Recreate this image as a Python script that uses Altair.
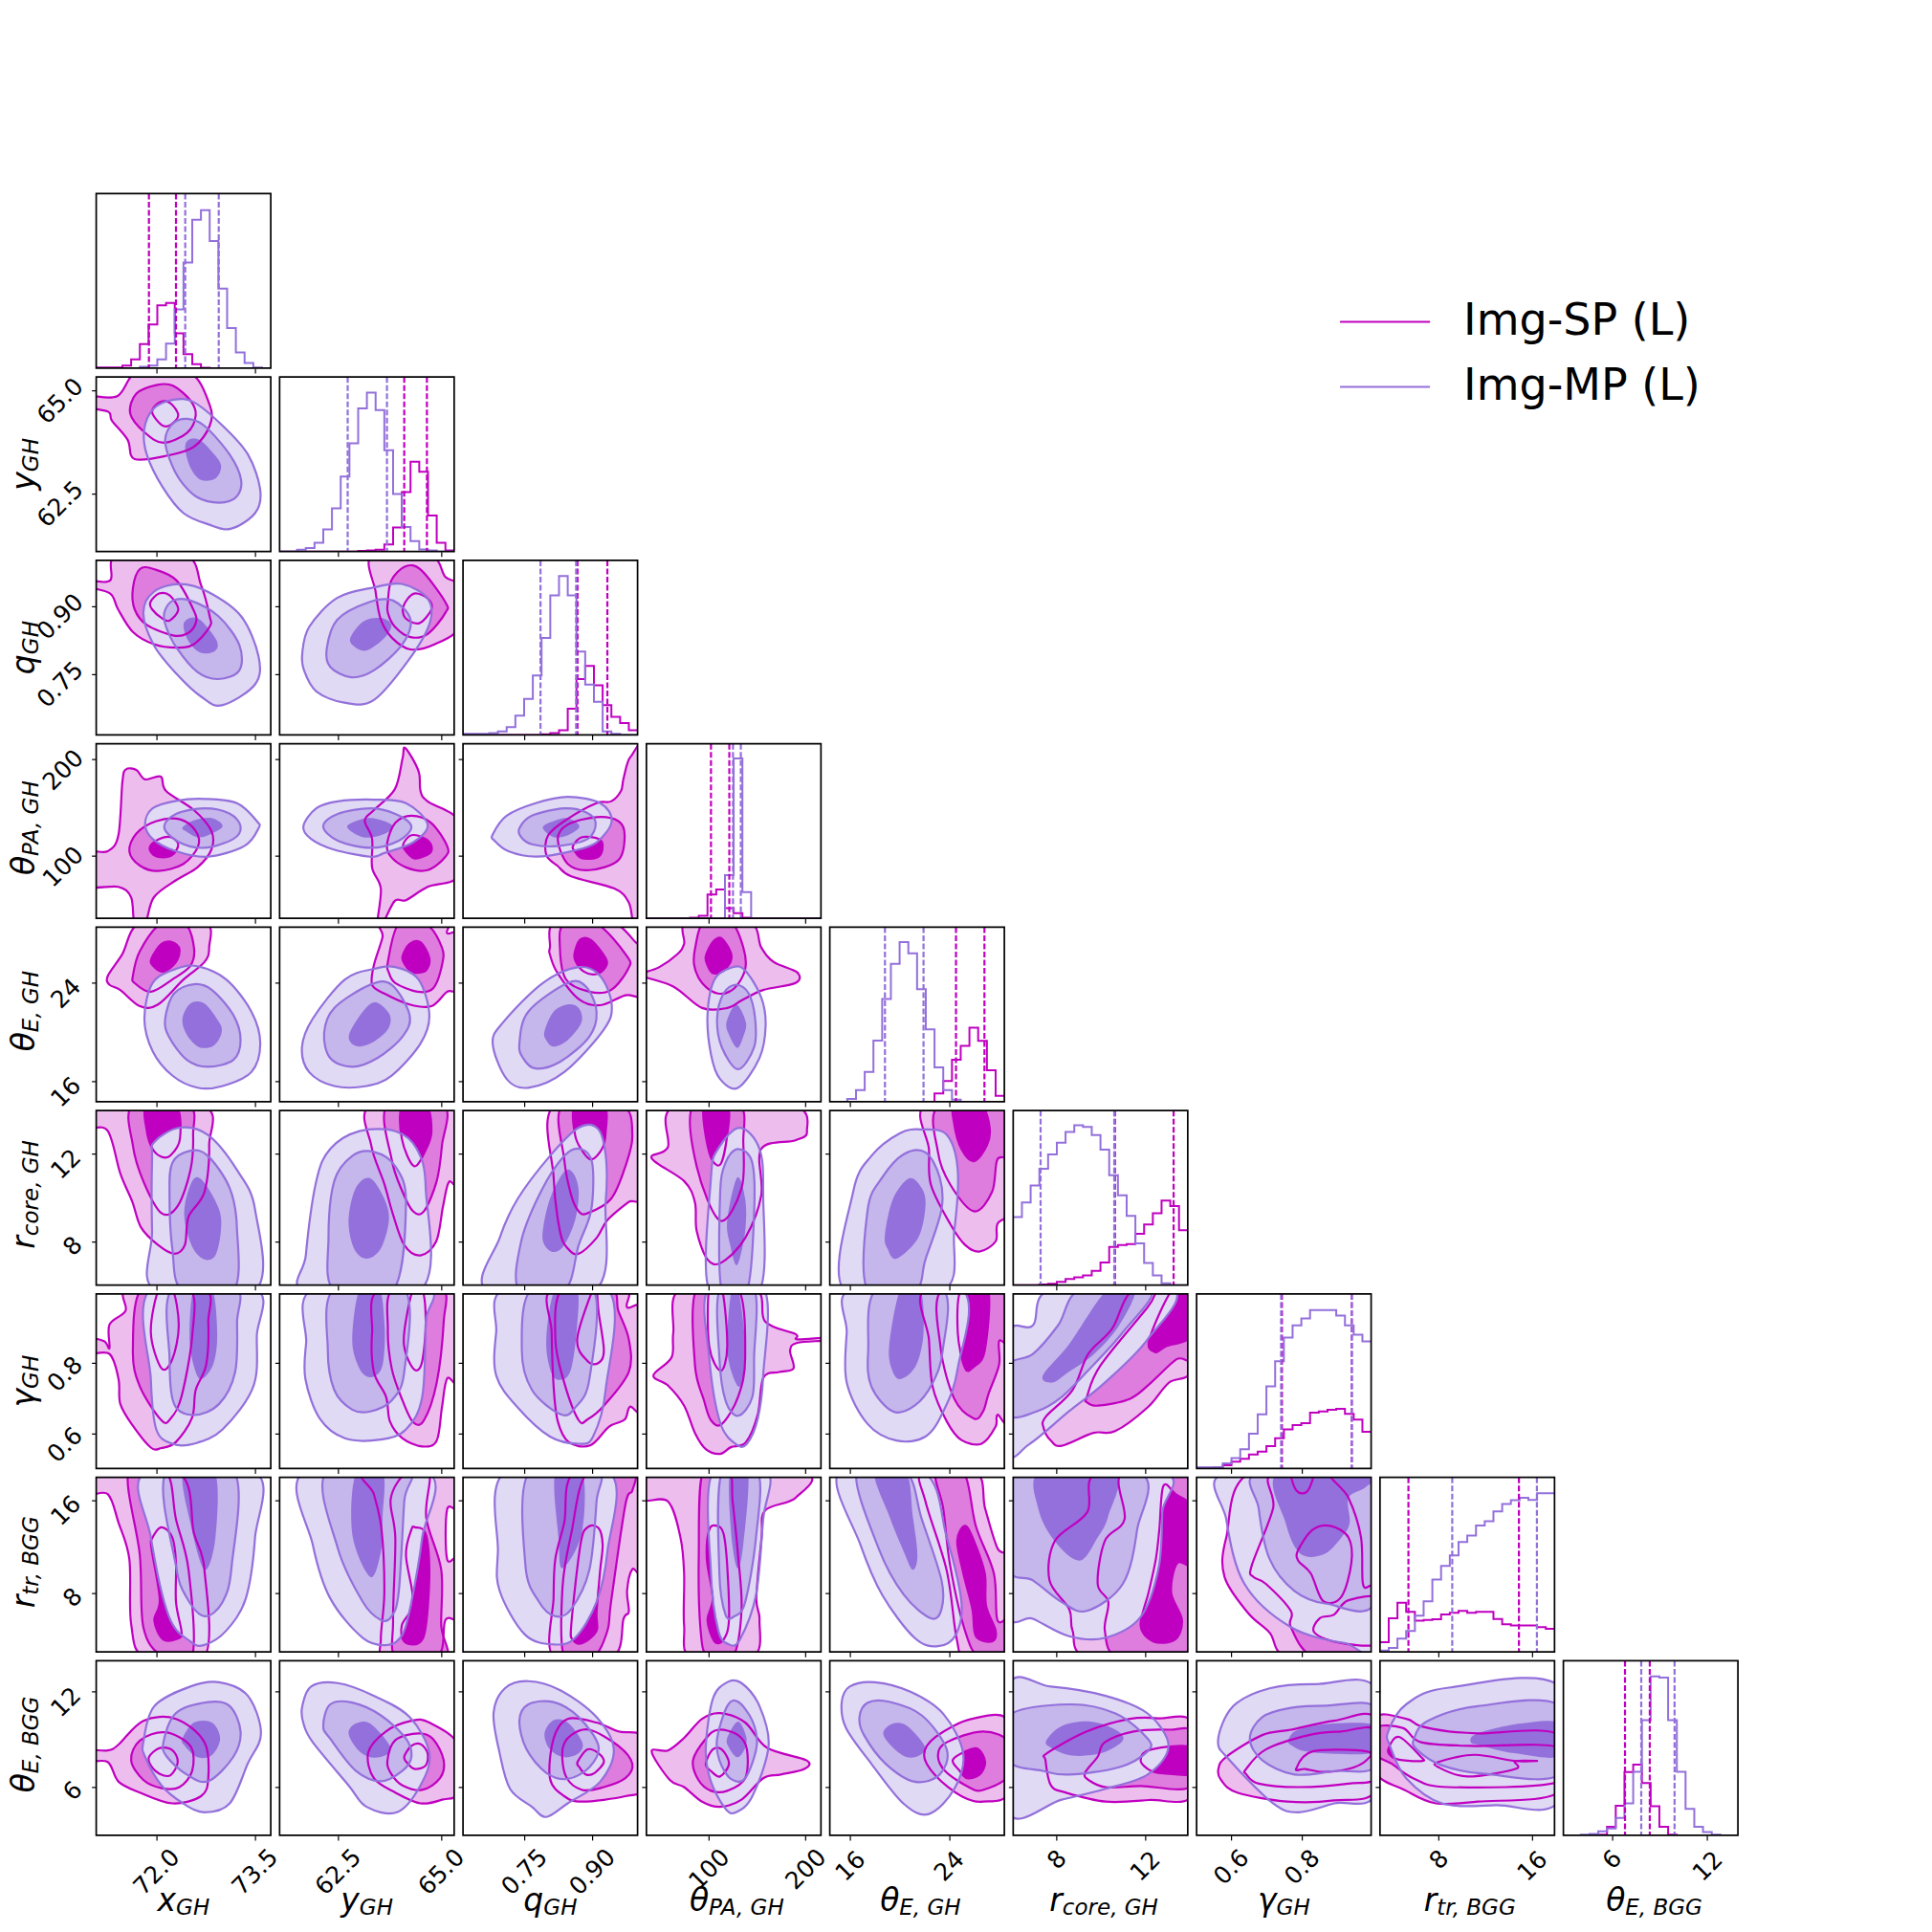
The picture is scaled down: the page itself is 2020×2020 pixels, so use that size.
import altair as alt
import pandas as pd

# parameter ranges, ticks and labels
names = ["x", "y", "q", "θ", "θ", "r", "γ", "r", "θ"]
subs = ["GH", "GH", "GH", "PA, GH", "E, GH", "core, GH", "GH", "tr, BGG", "E, BGG"]
sym_w = [19.5, 19.5, 21, 20, 20, 13.5, 19.5, 13.5, 20]
sub_w = [35, 35, 35, 72, 57, 93, 35, 77, 73]
lows = [71.086, 61.09, 0.615, 35.4, 14.36, 6.04, 0.5025, 2.98, 2.95]
highs = [73.746, 65.32, 1.0007, 216.0, 28.49, 13.94, 0.996, 17.93, 13.93]
ticks = [[72.0, 73.5], [62.5, 65.0], [0.75, 0.90], [100, 200], [16, 24], [8, 12], [0.6, 0.8], [8, 16], [6, 12]]
fmts = [".1f", ".1f", ".2f", "d", "d", "d", ".1f", "d", "d"]
label_pad = [33, 33, 33, 30, 27, 27, 28, 27, 27]

# histogram heights (percent of panel height), 20 bins per panel
h0_sp = [.4,.4,.4,1.4,5,13.8,25,36,37.4,20,8,2.3,.2,0,0,0,0,0,0,0]
h0_mp = [0,0,0,0,0,.8,1.4,5,14,33.7,60.5,85,90.5,72.8,45.5,23,9,3,.4,0]
h1_sp = [0,0,0,0,0,0,0,0,0,.4,.6,1,4,13.8,34,51.4,45.7,20.6,5,.6]
h1_mp = [0,0,1,2,5,12.7,24.7,43,62,82,91,81,58,33,14,6,1.2,.6,0,0]
h2_sp = [0,0,0,0,0,0,0,0,0,.4,1,2.7,15,32,39.5,28.4,17,10.3,6.8,2.7]
h2_mp = [.6,.6,.6,1,2,4.5,11,20.6,34,55.6,80,91,80,47.7,28.8,19,2,.6,0,0]
h3_sp = [0,0,0,0,0,.4,1.4,13.7,16.5,5.9,2.9,.4,0,0,0,0,0,0,0,0]
h3_mp = [0,0,0,0,0,0,0,0,0,24.7,91.6,15,0,0,0,0,0,0,0,0]
h4_sp = [0,0,0,0,0,0,0,0,0,0,0,0,4.7,11.8,24,32,42.4,34.9,18,3.3]
h4_mp = [0,0,1.6,6.7,17,35,58.8,79,91.4,85,64.5,41.4,19.6,6.7,1.2,0,0,0,0,0]
h5_sp = [0,0,0,.4,.8,1.8,3.5,4.5,5.5,8.2,13,21.8,22.9,23.5,29.4,34.7,41.2,48.4,45.3,31.4]
h5_mp = [39,47.3,57,66.7,74.9,81.6,87.8,91.6,90.6,86,77.6,63,51.4,39.6,23.9,12.7,5.5,1,0,0]
h6_sp = [.4,.4,.6,1.9,3.9,5.6,8,9.7,12.8,17.3,22.4,24.9,26,32,32.7,33.7,34.2,31.3,28,21]
h6_mp = [.6,.6,.8,2.9,6,11,20,31,47,61.5,75,82,86,90.7,90.7,90.7,87.6,82,76.7,72.8]
h7_sp = [5.6,19.3,28.2,23,17.9,18.3,18.7,21.4,22.4,23.5,22.4,23,23,18.9,15.8,15.2,15.2,15.2,14.2,13.2]
h7_mp = [.8,2.3,7.6,12,20.8,29,41.4,49.2,55.3,63,66.7,72.4,74.9,80.5,84.8,86.9,88.3,87,90.9,90.9]
h8_sp = [0,0,0,0,.4,4.9,16.9,36.2,40.5,30,16.7,4.9,.4,0,0,0,0,0,0,0]
h8_mp = [0,0,.4,.8,2.3,3.9,10,18.3,36.4,66,91,90.3,66,36.4,15.2,4.9,1.9,.4,0,0]

# dashed quantile markers (percent of axis range)
d_sp = [[30.2,45.7],[71.4,84.4],[65.6,82.7],[37,47.5],[72.3,88.6],[58.3,91.9],[48.9,88.9],[16.3,79.6],[35.3,49.5]]
d_mp = [[51,70.2],[39,61.5],[44.4,64.8],[49.6,54.1],[31.6,53.7],[15.7,57.9],[48.4,88.9],[41.4,89.9],[44.6,63.7]]

# contour outlines: (percent across, percent down) per level
p10_sp = [[(-5,11),(12,11),(24,-3),(53,-3),(65,16),(65,28),(56,40),(41,45),(22,47),(18,36),(9,25),(7,20),(-5,17)],
 [(19.5,21),(23,9.5),(35,4.5),(44,5),(54,13.5),(57,22),(52,32),(38.5,37.7),(28,32)],
 [(32,20),(36.5,14.5),(42.5,15),(47,22),(42.5,27.5),(37.5,27.5)]]
p10_mp = [[(27.5,30),(33,18),(44.5,13),(56,14.5),(72.5,28),(87,44.5),(94,65),(91,78),(77,87),(64.5,84.5),(50,78),(38,63),(29,44.5)],
 [(39.5,36),(43.5,27),(52,24),(62,28),(76.5,44.5),(83,59),(80,69),(70.5,72),(58,69),(48,59),(42,47)],
 [(51,41),(53,36),(59,36),(66,42.5),(71.5,50.5),(68.5,58),(60,59),(54,52)]]
p20_sp = [[(-5,11.5),(8,11.5),(12,-3),(51,-3),(60,14),(65,32),(65,38),(56,48),(46,50),(33,48),(21,41),(12.5,28),(8,19),(-5,15)],
 [(21,16),(25,5),(33,5),(46,11.5),(56,29),(57,36),(52,42),(44,43),(29,37),(22,28)],
 [(31,24),(36,19),(42,20),(47,28),(42,34.5),(37.5,33),(32,28)]]
p20_mp = [[(27,30),(33,18),(48,13.5),(64,18),(83,32),(93,55),(91,71),(72,83),(60,78),(46,65),(33,48.5)],
 [(39,30),(44,23),(54,23),(70,32),(82,48.5),(82,63),(70,68),(58,64),(46,50),(40,38)],
 [(50,37),(54,33),(60,34.5),(69,46),(68,52),(60,53),(53,46.5)]]
p21_sp = [[(53,-3),(86,-3),(95,9.5),(103,15),(103,38),(89,48),(75,51),(64.5,44.5),(58,34),(55,18)],
 [(62,24),(64,11.5),(72,3.5),(81,5.5),(95,24),(95,30),(85,42),(75,44),(66,38),(62,30)],
 [(71,26),(77,19),(85,22),(87,28),(80,36),(72,33)]]
p21_mp = [[(13,53),(17,38),(33,21.5),(54,15.5),(70,13.5),(85,22),(86,36),(74,57),(54,80),(37,81.5),(21,75),(14,63)],
 [(27,50.5),(33,34),(51,24),(65,23),(75,34),(70,48.5),(54,63),(41,67),(29,61)],
 [(40.5,44.5),(48,35),(58,33),(64,37),(60,44.5),(50,51.6),(43,49.5)]]
p30_sp = [[(-5,63),(6.5,61.6),(12.7,52.4),(15,21.8),(17,14.7),(23,15),(28,20.4),(37,18.8),(40,27),(56,38),(66,50),(66,60.6),(58,70.8),(46,78),(33,88),(28,103),(22,103),(20,88),(12.7,82),(-5,81)],
 [(19,61.6),(23,51.4),(34.5,44.3),(48,43.3),(57,50),(58.4,58.6),(50,68.8),(35.4,72.9),(25,69.8)],
 [(31,58.6),(36.4,54.5),(42.6,53.5),(47,57.6),(43.6,63.7),(36.4,65),(31.7,62.6)]]
p30_mp = [[(28,46),(32.3,37),(45.7,32.7),(62,31.6),(80.6,34),(92,44.3),(93,48.4),(84.8,58.6),(64,64.7),(45.7,61.6),(32.3,54.5)],
 [(39,48),(45.7,40.2),(62,37),(76.5,40),(82.7,47.3),(78.6,54.5),(62,59.6),(47.7,56.5)],
 [(49.4,48),(56,43.9),(66.3,42.6),(72.4,47.3),(64,52.4),(58,53.5),(51.9,50.4)]]
p31_sp = [[(72,2.4),(79.6,15.7),(80.7,27),(84.8,33),(103,45),(103,75),(84.8,82),(72.4,89.6),(66,90),(59,103),(56,103),(58,83),(53,71),(53,54.5),(48.8,44),(54,38),(66,26),(70.4,8.6)],
 [(61.7,56.5),(66.3,45.3),(75.5,41.2),(86.8,45.3),(96,58.6),(95,64.7),(84.8,72.4),(72.4,70.8),(63,63.7)],
 [(70.8,57.6),(75.5,52.4),(83.7,54.5),(87,58.6),(86,62.7),(77.6,65.7),(72.4,61.6)]]
p31_mp = [[(13.6,47.3),(21,37),(33.3,33),(54,32),(72.4,34),(84.8,46.3),(76.5,56.5),(60,62.6),(52,64.7),(31,60.6),(18,54.5)],
 [(25,47.3),(33.3,40.2),(52,37),(66.3,40.2),(75.5,47.3),(68.3,55.5),(52,59.6),(33.3,55.5)],
 [(38.7,47.3),(49.8,42.6),(60,44.3),(65,48),(58,52.4),(47.7,53.5)]]
p32_sp = [[(96,7.5),(92,19.8),(90.5,27),(84.8,33),(76.5,34),(60,43),(48.8,52.4),(47.7,63.7),(54,69.8),(62,76),(86.8,83),(95,91),(98,103),(105,103),(105,7)],
 [(54.3,54.5),(60,46.3),(76.5,42),(89,44.3),(92.6,52.4),(89,66.7),(72.4,72.4),(60,68.8)],
 [(63,58.6),(68.3,53.5),(77.6,54.5),(80,58.6),(77.6,64.7),(68.3,65.7),(64,61.6)]]
p32_mp = [[(17,52),(25,41.2),(41.6,34),(60,30.4),(78.6,34),(85.2,44.3),(76.5,56.5),(62,61.6),(41.6,64.7),(26,61.6),(18,55.5)],
 [(32.3,48.4),(39.5,41.2),(58,37),(70.4,39.2),(76,45.3),(71.4,54.5),(54,58.6),(39.5,57.6),(33.3,53.5)],
 [(45.7,48),(51.9,44.3),(60,42.6),(66.7,47.3),(60,52.4),(51.9,53.5)]]
p40_sp = [[(6.6,28),(14.8,15.7),(26,-3),(62,-3),(64.7,11.6),(62,20),(50,30),(35.4,44.3),(25,45.3),(13.8,36),(7.6,33)],
 [(21,28),(25,13.7),(37,-2),(50.8,-2),(56,11.6),(54,22),(43.6,30),(31.3,37),(22,32)],
 [(31.7,17.8),(37.4,9.6),(43.6,8.6),(47.7,12.7),(45.7,20),(38.5,25.5),(32.3,21.8)]]
p40_mp = [[(27.6,52.4),(32.3,32),(45.7,23.9),(58,22.4),(74.5,30),(88.9,48.4),(94,66.7),(88.9,83),(72.4,91),(58,92),(43.6,85),(32.3,71)],
 [(39.5,52.4),(44.6,38),(56,32.7),(66.3,36),(78.6,50.4),(82.7,64.7),(78.6,76),(64,80),(51.9,76),(41.6,62.7)],
 [(49.4,52.4),(54,43.7),(62,43.7),(70.4,54.5),(71.8,60.6),(67.3,67.8),(59,68.8),(51.9,61.6)]]
p41_sp = [[(59,-3),(94,-3),(96,3.5),(103,5),(103,34.5),(96,37),(87,45.3),(74.5,44.3),(60,38),(53,33),(54,21.8),(59,5.5)],
 [(62,20),(68.3,-2),(83.7,-2),(93,11.6),(93,21.8),(88,35),(79,37),(66.3,32),(62.6,26)],
 [(70.4,16.7),(74.5,9.6),(80.7,8.6),(85.8,17.8),(83.7,24.9),(76.5,25.9),(72,21.8)]]
p41_mp = [[(12.8,68.8),(19,52.4),(37.4,30),(54,23.9),(66.3,22.9),(79.6,30),(85.8,50.4),(80.7,66.7),(64.2,85),(49.8,91),(31.3,91),(16.9,83)],
 [(25.5,60.6),(31.3,46.3),(51.9,33),(64.2,33),(74.5,50.4),(70.4,62.7),(56,75),(41.6,80),(29,75)],
 [(40.5,59.6),(49.4,46.3),(56,43.3),(63.2,50.4),(62,58.6),(53.9,65.7),(45.7,68.4),(40.5,65.7)]]
p42_sp = [[(49.8,11.6),(53,-3),(84.8,-3),(100,9.6),(104,10),(104,38),(93,39),(78.6,44.7),(66.3,41.2),(54,26),(49.8,15.7)],
 [(55.5,11.6),(58,-2),(76.5,-2),(94,16.7),(94.6,23.9),(84.8,36),(72.4,37),(59,30)],
 [(64.2,13.7),(67.3,7),(73.5,7.5),(81.7,17.8),(81.7,22.9),(76.5,26.9),(69.3,25.5),(64.2,18.8)]]
p42_mp = [[(17,66.7),(23,54.5),(45.7,32),(66.3,22.9),(78.6,28),(85.2,44.3),(80.7,58.6),(58,83),(37.4,92),(25,87)],
 [(32.3,66.7),(37.4,48.4),(60,32),(70.4,34),(76.5,48.4),(72.4,62.7),(56,76.9),(41.6,81),(34.4,75)],
 [(46.7,59.6),(51.9,48.4),(60,44.3),(66.3,46.3),(67.9,54.5),(60,64.7),(51.9,68.4),(47.7,64.7)]]
p43_sp = [[(23.7,-3),(58.6,-3),(65.8,11.6),(73,20),(86.4,25.9),(85.4,32),(66.9,36),(54.5,42),(46.3,46.3),(31.9,46.3),(15.4,34),(-3,28),(-3,26.5),(7.2,23),(17.5,15.7),(21.6,9.6)],
 [(32.9,-3),(28,11.6),(27.4,21.8),(31.9,32),(41,38),(50.4,35),(56.6,24),(55.5,11.6),(48.4,-3)],
 [(34,16.7),(38,8.6),(43.2,6.5),(48.8,16.7),(44.2,24.9),(38,26.3),(35,21.8)]]
p43_mp = [[(35,50.4),(39,30),(49.4,22.9),(56.6,24.9),(65.8,40.2),(68.3,56.5),(64.8,74.9),(52.5,92),(42.2,87),(37,72.9)],
 [(40.5,52.4),(44.2,38),(51.4,33),(58.6,38),(62.3,52.4),(61.7,68.8),(52.5,81.4),(43.2,68.8)],
 [(45.9,54.5),(51.4,44.3),(57,54.5),(55.5,62.7),(52,69.2),(47.3,61.6)]]
p50_sp = [[(-5,-3),(60.5,-3),(64.7,20),(62,46.7),(52.9,60.8),(50.8,77),(44.7,82),(35.4,77),(25.7,67),(20.6,52),(13.8,36),(6.6,11.6),(-5,9.4)],
 [(21,-3),(21,20),(27,40.5),(37.4,58.8),(46.7,54.7),(54,34),(55.5,14),(52.9,-3)],
 [(29,-3),(29,11.8),(32.3,22),(37.4,26.5),(42.6,25.7),(48,16),(45.7,-3)]]
p50_mp = [[(32,28),(33.3,18),(47.7,9.8),(64,14),(80.6,34),(91,56.7),(91,103),(33.8,103),(32,69)],
 [(42,48.6),(43.6,30),(54,23),(64,26),(76.5,44.5),(80.6,67),(78.6,103),(49.4,103),(43.6,79)],
 [(51,52.7),(56,39),(62,41.4),(70.4,56.7),(71.4,69),(68.3,83),(62,85.3),(55.5,79),(51,65)]]
p51_sp = [[(52.5,-3),(103,-3),(103,40.8),(97,41),(93.6,55),(89.7,75),(80.7,83),(71.4,77),(64.8,59),(60,42),(52.5,20)],
 [(61.7,-3),(64.2,28),(70.4,46.5),(76.5,57.7),(82.7,57.7),(90,40.4),(93,20),(94,-3)],
 [(70.4,-3),(70,16),(77,31.8),(84,22),(87,11.8),(84,-3)]]
p51_mp = [[(15,103),(15,83),(21,40.4),(29,22),(45.7,11.8),(66.3,11.8),(78.6,22),(83.7,44.5),(80.7,103)],
 [(31.3,103),(28,73),(31.3,40.4),(41.6,26),(54,23.7),(66.3,32),(72.4,52.6),(65,103)],
 [(39.5,62.8),(43.6,44.5),(51.9,38.8),(60,50.6),(62.6,62.8),(58,79),(49.8,84.9),(42.6,79)]]
p52_sp = [[(52.3,-3),(103,-3),(103,47),(94.6,52.6),(82.7,62.8),(76.5,73),(66.3,82),(60,79),(55.5,69),(51.9,38)],
 [(57,-3),(58,28),(62,48.6),(66.3,57.7),(71.4,58.8),(84.8,50.6),(93,32),(97,14),(91,-3)],
 [(64.2,-3),(64.2,14),(68.3,23),(73.5,28),(79.6,22),(81.7,12.8),(80.7,-3)]]
p52_mp = [[(13.8,103),(21,73),(31.3,50.6),(49.8,26),(66.3,9.8),(77.6,10.8),(82,28),(81.7,52.6),(75.5,103)],
 [(32.3,103),(33.3,75),(44.6,46.5),(58,26),(67.3,22),(74,30),(73.5,56.7),(66.3,77),(58,103)],
 [(45.7,69),(49.8,50.6),(58,35),(63.2,36),(66.3,46.5),(64.2,62.8),(58,77),(51.9,81),(46.7,77)]]
p53_sp = [[(17,-3),(12.3,21),(3,27.3),(21.6,40.4),(27.8,52.6),(28.8,69),(35,85.3),(43.2,87),(56.6,73),(65.8,48.6),(65.8,22),(85.4,17),(92,11.8),(83.3,-3)],
 [(26.8,-3),(28.8,32),(42.2,63),(54.5,44.5),(55.5,18),(53.4,-3)],
 [(33,-3),(36,24),(42.2,31),(46.3,14),(46.3,-3)]]
p53_mp = [[(36,103),(37,38.4),(41,22),(53.4,9.8),(64.8,22),(66.9,48.6),(64.8,103)],
 [(43.2,103),(42.2,48.6),(45.3,30),(52.5,22),(60.7,30),(61.7,58.8),(57.6,103)],
 [(46.3,62.8),(52,38.4),(56.6,50.6),(56.6,69),(52,88.4),(48,77)]]
p54_sp = [[(54.8,-3),(103,-3),(103,53.7),(96,65),(95,75),(85.7,80.8),(77.5,77),(69,65),(57.9,42.4),(56.8,22)],
 [(62.6,-3),(103,-3),(103,24.5),(96,28),(93,46.5),(82.6,57.7),(69,42.4),(62,24)],
 [(71.7,-3),(71.3,7.8),(75.4,22),(82.6,29),(90,20),(91.6,9.8),(86.8,-3)]]
p54_mp = [[(8.3,103),(13.4,46.5),(23.8,26),(40.3,12.9),(52.7,10.8),(67,13.9),(73.3,34),(71.3,69),(65,103)],
 [(21.7,103),(21.7,56.7),(30,38.4),(42.4,25),(54.8,24),(63,38.4),(64,56.7),(54.8,85.3),(48.6,103)],
 [(31.6,71),(36.2,50.6),(45.5,38.8),(52.7,44.5),(54.8,54.7),(50.6,73),(38.2,84.9),(33,79)]]
p60_sp = [[(18.5,-3),(61.5,-3),(64.2,16),(63,40.5),(57,55),(54.9,71),(45.7,84.8),(37.4,88.3),(31.3,88),(21,75.5),(13.8,63),(12.8,48.8),(7.6,34.4),(-5,34),(-5,25.7),(4.5,27),(7.6,31),(7.6,17.5),(16.8,9.6)],
 [(26,-3),(21,32.3),(25,53),(37.4,72.4),(42.6,71.4),(48.8,59),(55,24),(53.5,-3)],
 [(36,-3),(31.3,22),(37.4,42.6),(43.6,37.4),(47.3,18),(43.6,-3)]]
p60_mp = [[(31.3,-3),(31.3,48.8),(34.4,77.6),(43.6,85.8),(56,85.8),(72.4,77.6),(90,53),(92,24),(91,-3)],
 [(43.6,-3),(42,36.4),(44.6,63),(56,69.3),(70.4,63),(79.6,44.7),(80.7,16),(79.6,-3)],
 [(56,-3),(53.5,26),(57,44.7),(61,48.4),(67.3,39.5),(69.3,22),(66.3,-3)]]
p61_sp = [[(57.6,-3),(103,-3),(103,48.4),(96,48.4),(93,65),(90,84),(81.7,87.4),(70.4,82.7),(63.2,73),(61,59),(54,44.7),(53,22)],
 [(65,-3),(62,20),(64.2,42.6),(70.4,61),(76.5,73.5),(82.7,72.4),(90,50.8),(94,16),(93,-3)],
 [(76.5,-3),(71.4,22),(72.4,34.4),(77.6,43.6),(81.7,38.5),(83.7,16),(81.7,-3)]]
p61_mp = [[(19.3,-3),(15.2,28),(14.8,48.8),(23,71.4),(37.4,82.7),(58,83.4),(72.4,77.6),(81.7,59),(83.7,16),(83.7,-3)],
 [(31.3,-3),(27.6,32),(31.3,55),(41.6,66.3),(51.9,67.3),(64.2,61),(71.4,44.6),(71.4,-3)],
 [(46,-3),(41.6,26),(45.7,42.6),(51.9,47.7),(58,43.6),(60,32.3),(60,16),(57,-3)]]
p62_sp = [[(51,-3),(92,-3),(94,7.6),(103,10.7),(103,64.6),(95.6,64.6),(92.6,72),(83.7,76),(72.8,86.8),(60.5,84.8),(54.3,73),(51.9,52.9),(50.8,22)],
 [(57,-3),(52.9,26),(58,50.8),(66.3,72.4),(71.4,71.8),(80.7,64),(95,44.6),(95,26),(89,9.7),(84.8,-3)],
 [(74.5,-3),(65.4,26),(71.4,38.5),(77.6,39.5),(80.7,32.3),(77.6,9.7),(76.5,-3)]]
p62_mp = [[(24,-3),(19,22),(19,46.7),(31.3,65),(49.8,81.7),(66.3,85.8),(74.5,81.7),(81.7,55),(82.7,-3)],
 [(39.5,-3),(33.7,32.3),(39.5,55),(56,69),(64.2,65.2),(72.4,48.8),(74.5,-3)],
 [(52.9,-3),(47.7,26),(50.8,45.7),(57,49),(62,42.6),(65.2,20),(65.2,-3)]]
p63_sp = [[(19.5,-3),(15.4,22),(14.4,36.4),(4,46.7),(12.3,52.4),(21.6,64),(27.8,79.6),(34,88.9),(42.2,91.6),(48.4,87.8),(57,85),(63.8,69),(67,48),(76,44.7),(84.3,42.6),(82.3,32.3),(86.4,28),(103,26.6),(103,25),(86.4,26),(85.5,23),(68,15.8),(61.7,-3)],
 [(28.8,-3),(27.8,40.5),(33,61),(37,72.4),(43.2,74.5),(52.5,59),(56.6,36.4),(52.5,-3)],
 [(36,-3),(36,30),(42.6,44),(46.3,30),(43.2,-3)]]
p63_mp = [[(35.6,-3),(36,36.4),(42.2,73.5),(51.4,86.2),(57.6,85.8),(63.8,71.4),(66.9,46.7),(67.3,-3)],
 [(42.2,-3),(41.8,36.4),(45.3,61),(52.5,69.8),(60.7,59),(61.7,36.4),(61.7,-3)],
 [(48.8,-3),(46.3,32.3),(52.5,53),(56.2,42.6),(56,22),(52.5,-3)]]
p64_sp = [[(54.8,-3),(103,-3),(103,69.3),(96,69.3),(95,76),(87,85.8),(75.4,83.7),(67,73),(58.9,53),(56.8,26)],
 [(64.7,-3),(63.4,30),(71.3,60),(82.6,71.4),(87.8,67.3),(91,57),(97,40.5),(97,27),(103,27),(103,-3)],
 [(75.4,-3),(73.3,22),(77.5,42.6),(82.6,41.6),(88.8,32.3),(90.5,-3)]]
p64_mp = [[(12.4,-3),(9.7,22),(9.7,50.8),(21.7,74.5),(38.2,84),(54.8,81.7),(65,67.3),(73.3,42.6),(75.4,-3)],
 [(26.9,-3),(22,32.3),(23.8,53),(36.2,67.3),(48.6,64),(58.9,51),(64.7,32.3),(64.7,-3)],
 [(40.7,-3),(34,30),(36.2,44.8),(41.3,48.6),(49.6,40.5),(53.7,22),(51.7,-3)]]
p65_sp = [[(70,-3),(103,-3),(103,42),(89,51),(77,65),(58.4,78.6),(46,79.6),(27.8,87),(21.6,84),(17.5,77),(18.5,70.5),(34,55),(43,34.4),(56.6,20)],
 [(84.4,-3),(103,-3),(103,35.4),(93.6,37.4),(79,50.8),(67,60),(48.6,64),(42.2,62),(42.2,59),(50,41),(77,7.6)],
 [(91.6,-3),(78,26),(81.3,33.3),(87.4,30),(103,23),(103,-3)]]
p65_mp = [[(-3,89),(9.3,86),(31.9,67.3),(52.5,50.8),(77,26),(91.4,-3),(22.6,-3),(11.3,18),(-3,24)],
 [(-3,69),(13.4,67.3),(27.8,59),(42.2,44.6),(62.8,22),(79.2,-3),(39,-3),(25.7,18),(11.3,34.4),(-3,41.6)],
 [(17,46.7),(31.9,29),(54.5,-3),(70,-3),(60.7,18),(46.3,34.4),(31.9,44.6),(22.6,50.8)]]
p70_sp = [[(-5,-3),(46.7,-3),(56,32),(62,53),(62,103),(27.8,103),(20,84),(19,47),(12.8,26),(6.6,9.6),(-5,9.6)],
 [(18.5,-3),(25,44.6),(27,85.8),(37.4,102),(55,102),(52.9,53),(45.7,24),(40,-3)],
 [(31.7,41),(36.4,70),(33.3,82),(38.5,93),(47.7,92),(48.8,87.8),(45.7,71.4),(45.7,48.8),(43.6,34.4),(37.4,28.6),(32,35)]]
p70_mp = [[(28,-3),(31.3,34.4),(41.6,79.6),(53.9,94),(62,96),(74.5,87.8),(85.8,69),(91,34.4),(91,-3)],
 [(40,-3),(45.7,50.8),(51.9,69),(62,79.6),(72.4,71.4),(77.6,50.8),(79,-3)],
 [(50,-3),(53.9,26),(62,52.9),(68.3,34.4),(67.9,-3)]]
p71_sp = [[(49.8,-3),(103,-3),(103,18),(96,18.3),(96,47),(103,47),(103,79.6),(95,81.7),(90,103),(60.5,103),(58,92.6),(60,66),(58.4,30),(54,9.7)],
 [(73,-3),(63.7,12),(66.3,35),(65,82),(67.3,103),(95,103),(92.6,85),(92.6,53),(84,23),(85.8,-3)],
 [(75.5,30),(72.4,44.7),(76.5,71.4),(70,84.8),(71.4,94),(79.6,95),(83.7,85.8),(85.8,54.9),(83.7,32.3),(77.6,28.6)]]
p71_mp = [[(13.8,-3),(19,38.5),(29,69.3),(47.7,92),(62,96),(70.4,90),(75.5,71.4),(81.7,34.4),(84.8,-3)],
 [(26.7,-3),(33.3,40.5),(47.7,71.4),(58,81.7),(64.2,79.6),(68.3,65.2),(71.4,13.8),(73,-3)],
 [(44,-3),(41.6,32.3),(51.9,57),(58,42.6),(59,22.6),(59,-3)]]
p72_sp = [[(64,-3),(103,-3),(103,52),(97,52.6),(94,65),(95,77),(92,81),(85.8,103),(51.9,103),(51.9,69),(52.9,46.7),(58,26)],
 [(71.4,-3),(62,32.3),(57,63),(58,103),(74.5,103),(82.7,88),(84.8,71.4),(93,15.8),(97,7.6),(97,-3)],
 [(71.4,28.6),(67.3,38.5),(62,84.8),(63,93),(68.3,95),(76.5,88),(76.5,77.6),(78.6,53),(80,38.5),(77.6,29)]]
p72_mp = [[(24,-3),(20,42.6),(21,65),(35.4,90),(51.9,95.7),(64.2,92),(76.5,71.4),(82.7,42.6),(83.7,-3)],
 [(37.9,-3),(35.8,50.8),(43.6,71.4),(52.9,79.6),(62,75.5),(72.4,53),(76.5,13.8),(76.5,-3)],
 [(53,-3),(54.7,34.4),(57,52),(68,32),(68.3,-3)]]
p73_sp = [[(-3,-3),(88.5,-3),(85.5,11.7),(68,19),(66,34.4),(63,69),(64.8,81.7),(61,103),(25.7,103),(21.6,84.8),(21.6,55),(19.5,34.4),(12.3,13.8),(-3,12.7)],
 [(32.3,-3),(30,44.6),(30.9,85.8),(35,103),(49.4,103),(54.5,76),(52.5,44.6),(49.4,13.8),(47.3,-3)],
 [(36,30),(34.6,46.7),(38,69.3),(35,81.7),(39,94),(44.2,93),(47.3,81.7),(46.3,50.8),(44.2,32.3),(40.5,27.8)]]
p73_mp = [[(38,-3),(37,55),(41.2,87.8),(47.3,95.7),(53.5,93),(62.8,67.3),(66.9,24),(69.3,-3)],
 [(43.2,-3),(41.8,55),(45.3,78.6),(50.4,79.6),(56.6,71.4),(62.8,34.4),(63.8,-3)],
 [(48,-3),(48.4,30),(52,51.9),(55.5,38.5),(58.2,-3)]]
p74_sp = [[(53.3,-3),(83.7,-3),(89,17.9),(96,40.5),(103,49.8),(103,103),(78,103),(72.7,92.6),(67,53.5),(54.8,13.8)],
 [(60.8,-3),(76.7,-3),(83.7,28),(94,55),(96,81.7),(103,81.7),(103,103),(85.7,103),(77.5,88),(69,50.8),(65,18)],
 [(73,36.4),(77.5,27.8),(82.6,36.4),(88.8,55),(89.5,73.5),(95,87.8),(93,94),(83.7,91),(81.7,75.5),(76.5,55)]]
p74_mp = [[(5.2,-3),(17.5,38.5),(30,67.3),(48.6,92),(62,96.7),(72.3,90),(75.4,71.4),(67,34.4),(53.7,-3)],
 [(15.5,-3),(27.9,40.5),(42.4,67.3),(57.9,80.7),(64,75.5),(64,58.9),(52.7,24),(43.4,-3)],
 [(25.8,-3),(34,22),(42.4,42.6),(47.5,52.9),(50.2,44.6),(47.5,22),(43.4,-3)]]
p75_sp = [[(48.6,-3),(42.4,20),(23.9,36.4),(20.8,59),(32.1,75.5),(34,87.8),(43.2,103),(103,103),(103,-3)],
 [(62.7,-3),(63.8,24),(52.5,36.4),(48.4,61),(54.5,71.4),(52.5,87.8),(59.6,103),(92.6,103),(103,95.7),(103,-3)],
 [(86,5),(93,9.6),(103,19),(103,49),(94,49),(90.5,65.8),(96.7,81.7),(92.6,93),(80.2,94),(73,84.8),(77.6,65.8),(81.7,47),(83.7,30)]]
p75_mp = [[(-3,-3),(85.4,-3),(85.4,20),(83.3,52),(73,80),(52.5,92),(32,91),(11.3,81),(-3,76)],
 [(-3,-3),(72,-3),(71,30),(62.8,61),(42.2,76.5),(27.8,71.4),(11.3,59),(-3,50.8)],
 [(15.4,-3),(14.4,18),(23.7,36.4),(38,47.7),(48.4,34.4),(54.5,22),(58.2,-3)]]
p76_sp = [[(31.5,-3),(103,-3),(103,103),(53,103),(41.8,88.9),(29.4,77.6),(16,57),(17,34.4)],
 [(44.9,-3),(103,-3),(103,103),(67.5,103),(54,85.8),(54,76.5),(39.7,61),(32.5,57),(31.5,50.8),(43.8,17.9)],
 [(58.2,41.6),(66.5,30),(76.7,27.8),(87,34.4),(88.7,48.8),(83,68.3),(72.6,71),(65.4,55),(58.2,47.7)],
 [(54.7,-3),(57.2,7.6),(63.4,8),(66.5,-3)],
 [(76.7,-3),(87,11.7),(94.2,34.4),(95.3,61),(100,62),(106,62),(106,-3)],
 [(106,70),(87,70.4),(78.8,78.6),(70.6,80.7),(67.5,88.9),(83,95),(106,94)]]
p76_mp = [[(16.7,-3),(17,24),(27.4,61),(54,85.8),(85,95),(103,94),(103,-3)],
 [(35.6,-3),(35.6,17.9),(41.8,46.7),(56,65),(74.5,72.4),(103,70.4),(103,-3)],
 [(47,-3),(51,26),(59.3,43.6),(72.6,44.2),(83,34.4),(87.7,26),(87,11.7),(97,5.5),(103,-3)]]
p80_sp = [[(-5,51.4),(6.6,51.4),(12.8,48),(27,34.4),(45.7,33.3),(62,46.7),(64.2,67.3),(60,77.6),(43.6,81.7),(25,75.5),(12.8,69.3),(6.6,58),(-5,57.6)],
 [(20,57),(25,45.7),(39.5,41),(53.9,48.8),(55,63),(47.7,72.4),(37.4,73),(27,68.3)],
 [(30.3,55),(36.4,50),(43.6,51.2),(46.7,58),(42.6,65.6),(36.4,64.8),(31.3,60)]]
p80_mp = [[(27,46.7),(33.3,26),(53.9,14.8),(70.4,12.3),(86.8,20),(94.4,41.6),(86.8,59),(76.5,81.7),(62,86.8),(49.8,81.7),(37.4,71.4),(28,55)],
 [(38.5,46.7),(45.7,30),(64.2,23.7),(76.5,26),(82.7,40.5),(78.6,55),(64.2,69),(51.9,65.2),(40.5,55)],
 [(49.4,44.6),(56,35.4),(66.3,35.4),(71,44.6),(66.3,54),(58,55.3),(50.8,48.8)]]
p81_sp = [[(103,48.8),(85.8,35.4),(75.5,34.4),(60.9,40.5),(50.8,52.5),(54,67.3),(66.3,75.5),(80.7,81.7),(93,79.6),(103,75)],
 [(61.7,57.8),(66.3,45.5),(79.6,41.6),(87.8,44.7),(94,57),(91.9,67.3),(81.7,74),(70.4,71.4),(64.2,65.2)],
 [(71.4,55),(75.5,48.8),(80.7,47.7),(84.8,53),(83.7,60),(77.6,62),(73.5,59)]]
p81_mp = [[(12.8,27),(18,14.8),(33.3,12.8),(53.9,20),(74.5,32.3),(85.8,53),(80.7,71.4),(67.3,86.8),(49.8,83.7),(39.5,71.4),(19,46.7),(13.8,36.4)],
 [(25,37.4),(29,25),(41.6,24),(58,31.3),(72.4,44.7),(75.5,55),(70.4,63),(58,69),(43.6,63),(29,44.7)],
 [(39.5,41.6),(43.6,36),(51.9,36),(63.2,48.8),(61,54),(51.9,55.3),(44.6,50.8)]]
p82_sp = [[(103,44.2),(89,40.5),(76.5,35.4),(60,33.3),(51.9,44.6),(49.8,67.3),(58,77.6),(68.3,80.7),(93,77.6),(103,72.4)],
 [(57,50.8),(62,42.6),(72.4,39.5),(89,48.8),(97,59),(93,67.3),(80.7,72.4),(68.3,74),(59,66.3)],
 [(65.6,58),(71.4,50.8),(77.6,53),(80.7,58),(75.5,64.2),(70.4,65.2),(66.7,61)]]
p82_mp = [[(17.5,30),(24,15.8),(37.4,11.7),(56,17),(76.5,32.3),(86.4,50.8),(78.6,69.3),(60,81.7),(47.7,89.5),(39.5,83.7),(27,73.5),(21,53)],
 [(32.3,34.4),(37.4,25),(51.9,23.7),(66.3,32.3),(77.6,48.8),(72.4,61),(60,67.7),(47.7,64.2),(36.4,50.8)],
 [(46.7,41.6),(51.9,34),(60,35.4),(68.3,46.7),(66.3,53),(58,55.3),(49.8,50.8)]]
p83_sp = [[(3,52),(12.3,51.4),(21.6,44.2),(31.9,33.3),(42.2,30),(56.6,35.4),(69,49.8),(91.6,57),(90.5,62),(77,65.2),(66.9,67.3),(54.5,79.6),(42.2,83.7),(31.9,80.7),(21.6,72.4),(13.4,68.3)],
 [(26.7,57),(34,44.7),(41.2,39.5),(52.5,42.6),(57.6,50.8),(56.6,67.3),(46.3,74.5),(37,74.5),(29.8,68.3)],
 [(34,59),(38,50.8),(43.2,50.8),(47.3,59),(42.2,66.3),(37,63.2)]]
p83_mp = [[(34,50.8),(38,22),(46.3,12.3),(54.5,12.8),(64.8,26),(70,48.8),(60.7,77.6),(51.4,86.8),(45.3,84.8),(37,69.3)],
 [(40.5,44.7),(46.3,26),(52.5,23.5),(60.7,34.4),(63.2,48.8),(56.6,67.3),(48.4,67.7),(41.8,57)],
 [(46.3,44.2),(52.5,34.8),(57.2,43.6),(56.2,50.8),(52,55.3),(47.3,49.8)]]
p84_sp = [[(54,54),(60.7,43.6),(81.4,33.3),(103,35),(103,74.5),(87.8,80.7),(75.4,77.6),(60.7,66)],
 [(62,54),(67,46.7),(87.8,40.5),(103,47),(103,65.2),(87.8,74),(79.6,72.4),(66.1,63.2)],
 [(70.4,57),(77.6,52),(84.8,50.4),(89,58),(85.8,65.2),(78.6,67.3),(74.5,63.2)]]
p84_mp = [[(6.8,24),(11.4,14.8),(25.8,12.3),(46.5,17.9),(65,30.4),(76.4,53),(71.3,73.5),(56.8,87.8),(42.4,82),(23.8,59),(9.3,38.6)],
 [(17,32.3),(21.7,24),(34,23.5),(52.7,31.3),(67,50.8),(62.9,65.2),(48.6,69.3),(32,59),(19.6,42.6)],
 [(30.6,41.6),(36.2,36),(44.4,37.4),(54.3,48.8),(51.7,54),(44.4,55.3),(36.2,49.8)]]
p85_sp = [[(18.5,57),(19.5,52.9),(42.2,40.5),(66.9,33.3),(83.3,33),(103,36),(103,76.9),(77.6,79.8),(52.9,80.7),(30,75.5),(21.6,71.4)],
 [(41.2,64.2),(48.4,55),(52.5,46.7),(69,40.5),(89.5,39.5),(103,41.6),(103,71.4),(73,71.8),(52.9,72.4),(43.2,68.3)],
 [(73,57),(79.2,50.8),(103,49.8),(103,64.2),(89.5,64.8),(79.2,63.2)]]
p85_mp = [[(-3,14.8),(21.6,14.8),(52.5,20),(77,30.2),(89,48.8),(77,65.2),(52.5,73.5),(27.8,79.6),(-3,86.8)],
 [(-3,31.7),(31.9,25),(58.6,30.2),(77,44.6),(77,51.9),(60.7,61),(31.9,65.2),(17.5,63.2),(-3,57)],
 [(19,45.7),(27.8,37.4),(44.2,34.8),(58.6,39.5),(62.8,45.7),(50.4,53),(33.7,54.3),(21.6,49.8)]]
p86_sp = [[(12.5,62),(17,55),(37.6,42.6),(54,39.5),(78.8,34.4),(103,33.3),(103,74),(78.8,80),(52,80.7),(23.3,75.5),(14,68.3)],
 [(28.4,62),(39.7,50.8),(64.4,42.6),(83,40.5),(103,40),(103,66.3),(87,70.4),(58.2,72.4),(35.6,70.4),(28.4,65)],
 [(57,62),(66.5,51.9),(97.3,51.9),(97.3,57),(87,62),(72.6,63.7),(62.3,62)]]
p86_mp = [[(12.3,45.7),(21,26),(41.8,15.8),(68.5,13.4),(103,16.3),(103,75.5),(78.8,81.7),(58.2,86.8),(43.8,81.7),(19,57)],
 [(30.5,44.6),(37.6,32.3),(54,27),(74.5,25.7),(103,27),(103,60),(78.8,63.2),(56,65.2),(37.6,57)],
 [(52.5,45.7),(58.2,39.5),(78.8,36),(103,37.4),(103,51.9),(78.8,53.3),(62.3,51.9),(55,48.8)]]
p87_sp = [[(-3,33),(15,33.3),(23,37.4),(39.5,40.5),(56,41.6),(103,42.6),(103,75),(56,80.7),(31.9,81.7),(15,74.5),(-3,63)],
 [(-3,38.5),(13,38.5),(23.5,46.7),(52,48.8),(103,49.8),(103,69.3),(39,72.4),(19,67.3),(6.8,59),(-3,53)],
 [(4.7,50.8),(10.9,43.6),(23.3,54.9),(24.3,57.4),(13,57),(6.8,55)],
 [(33.5,58),(54,53.9),(77,57.4),(90,57.4),(77.6,57.6),(77.6,62),(50,66.3),(33.5,61)]]
p87_mp = [[(4.7,40.5),(15,25),(39.5,15.4),(103,14.8),(103,79.6),(66.5,82.7),(35.6,81.7),(15,67.3),(5.8,49)],
 [(19.5,44.6),(27.4,34.4),(56,26),(103,25.7),(103,64.8),(60.3,64.8),(35.6,60),(21,50.8)],
 [(52,46.7),(56,41.6),(80.9,36),(103,36),(103,54.5),(77,53),(58.6,48.8)]]

series_names = ["Img-SP (L)", "Img-MP (L)"]
sp_line = "#C000C0"
mp_line = "#9370DB"
sp_fill = ["#EDBDED", "#DE7DDE", "#C000C0"]
mp_fill = ["#E1DAF5", "#C5B6EB", "#9370DB"]

W = 182.5
FONT = "DejaVu Sans"


def poly_df(points, c, r):
    xl, xh, yl, yh = lows[c], highs[c], lows[r], highs[r]
    return pd.DataFrame({
        "i": list(range(len(points))),
        "x": [xl + p[0] / 100 * (xh - xl) for p in points],
        "y": [yh - p[1] / 100 * (yh - yl) for p in points],
    })


def title_marks(base, k, horizontal):
    m, s = sym_w[k], sub_w[k]
    total = m + s
    if horizontal:
        x0 = W / 2 - total / 2
        common = dict(font=FONT, fontStyle="italic", align="left", baseline="alphabetic", color="black")
        a = base.mark_text(text=names[k], fontSize=33, **common).encode(x=alt.value(x0), y=alt.value(W + 79))
        b = base.mark_text(text=subs[k], fontSize=23, **common).encode(x=alt.value(x0 + m), y=alt.value(W + 83))
    else:
        y0 = W / 2 + total / 2
        common = dict(font=FONT, fontStyle="italic", align="left", baseline="alphabetic", color="black", angle=270)
        a = base.mark_text(text=names[k], fontSize=33, **common).encode(x=alt.value(-65), y=alt.value(y0))
        b = base.mark_text(text=subs[k], fontSize=23, **common).encode(x=alt.value(-61), y=alt.value(y0 - m))
    return [a, b]


def make_axis(k, labels, vertical=False):
    extra = {}
    if vertical:
        extra["labelOffset"] = {"condition": {"test": "length(datum.label) < 2", "value": 4}, "value": 11}
    return alt.Axis(
        values=ticks[k], title=None, grid=False, domain=False, ticks=True, tickSize=5, tickWidth=1.2,
        tickColor="black", labels=labels, format=fmts[k], labelAngle=315, labelAlign="center",
        labelBaseline="middle", labelFontSize=25, labelFont=FONT, labelColor="black", labelOverlap=False,
        labelFlush=False, labelBound=False,
        labelPadding={"condition": {"test": "length(datum.label) < 2", "value": 20}, "value": label_pad[k]},
        **extra,
    )


def frame_layers(r, c, diag, xs, ys, xa, ya):
    df = pd.DataFrame({"x": [lows[c]], "x2": [highs[c]], "y": [0 if diag else lows[r]],
                       "y2": [100 if diag else highs[r]]})
    base = alt.Chart(df)
    frame = base.mark_rect(fill="transparent", stroke="black", strokeWidth=1.7).encode(
        x=alt.X("x:Q", scale=xs, axis=xa), x2="x2:Q",
        y=alt.Y("y:Q", scale=ys, axis=ya), y2="y2:Q")
    out = [frame]
    if r == 8:
        out += title_marks(base, c, True)
    if c == 0 and r > 0:
        out += title_marks(base, r, False)
    return out


def contour_panel(r, c):
    sp = globals()[f"p{r}{c}_sp"]
    mp = globals()[f"p{r}{c}_mp"]
    xs = alt.Scale(domain=[lows[c], highs[c]], nice=False, zero=False)
    ys = alt.Scale(domain=[lows[r], highs[r]], nice=False, zero=False)
    xa = make_axis(c, r == 8)
    ya = make_axis(r, c == 0, vertical=True)

    def layer(points, **mark):
        return alt.Chart(poly_df(points, c, r)).mark_line(
            interpolate="cardinal-closed", clip=True, **mark
        ).encode(x=alt.X("x:Q", scale=xs, axis=xa), y=alt.Y("y:Q", scale=ys, axis=ya), order="i:Q")

    layers = []
    for lvl, pts in enumerate(sp):
        layers.append(layer(pts, fill=sp_fill[min(lvl, 2)], strokeWidth=0))
    for lvl, pts in enumerate(mp):
        layers.append(layer(pts, fill=mp_fill[lvl], strokeWidth=0))
    for pts in sp:
        layers.append(layer(pts, stroke=sp_line, strokeWidth=2.2))
    for pts in mp[:2]:
        layers.append(layer(pts, stroke=mp_line, strokeWidth=2.2))
    layers += frame_layers(r, c, False, xs, ys, xa, ya)
    return alt.layer(*layers).properties(width=W, height=W)


def hist_panel(k):
    xs = alt.Scale(domain=[lows[k], highs[k]], nice=False, zero=False)
    ys = alt.Scale(domain=[0, 100], nice=False, zero=False)
    xa = make_axis(k, k == 8)
    step = (highs[k] - lows[k]) / 20
    edges = [lows[k] + i * step for i in range(21)]
    layers = []
    for vals, col in ((globals()[f"h{k}_sp"], sp_line), (globals()[f"h{k}_mp"], mp_line)):
        df = pd.DataFrame({"x": edges, "y": vals + [vals[-1]]})
        layers.append(alt.Chart(df).mark_line(interpolate="step-after", color=col, strokeWidth=2, clip=True).encode(
            x=alt.X("x:Q", scale=xs, axis=xa), y=alt.Y("y:Q", scale=ys, axis=None)))
    for q, col in ((d_sp[k], sp_line), (d_mp[k], mp_line)):
        df = pd.DataFrame({"x": [lows[k] + p / 100 * (highs[k] - lows[k]) for p in q]})
        layers.append(alt.Chart(df).mark_rule(color=col, strokeWidth=2.2, strokeDash=[6, 2.5]).encode(
            x=alt.X("x:Q", scale=xs, axis=xa)))
    layers += frame_layers(k, k, True, xs, ys, xa, None)
    return alt.layer(*layers).properties(width=W, height=W)


def blank():
    return alt.Chart(pd.DataFrame({"a": [0]})).mark_point(opacity=0).encode(
        x=alt.value(0), y=alt.value(0)).properties(width=W, height=W)


def legend_entry(name, colour, top):
    df = pd.DataFrame({"x": [-10, -9], "y": [0, 1], "s": [name, name]})
    return alt.Chart(df).mark_line(clip=True, strokeWidth=2).encode(
        x=alt.X("x:Q", scale=alt.Scale(domain=[0, 1]), axis=None),
        y=alt.Y("y:Q", scale=alt.Scale(domain=[0, 1]), axis=None),
        color=alt.Color("s:N", scale=alt.Scale(domain=[name], range=[colour]), legend=alt.Legend(
            orient="none", legendX=149, legendY=top, title=None, symbolType="stroke", symbolSize=8836,
            symbolStrokeWidth=2, labelFontSize=46, labelFont=FONT, labelColor="black", labelOffset=34,
            labelLimit=500, padding=0)),
    )


def legend_panel():
    return alt.layer(
        legend_entry(series_names[0], sp_line, 86),
        legend_entry(series_names[1], mp_line, 154),
    ).resolve_scale(color="independent").properties(width=W, height=W)


cells = []
for r in range(9):
    for c in range(9):
        if c < r:
            cells.append(contour_panel(r, c))
        elif c == r:
            cells.append(hist_panel(r))
        elif r == 0 and c == 6:
            cells.append(legend_panel())
        else:
            cells.append(blank())

chart = alt.concat(*cells, columns=9, spacing=8.75, bounds="flush").properties(
    padding={"top": 191.4, "left": 1.6, "right": 0, "bottom": 0}, background="white"
).configure_view(strokeWidth=0)

chart.save("out.html", embed_options={"renderer": "svg", "actions": False})
